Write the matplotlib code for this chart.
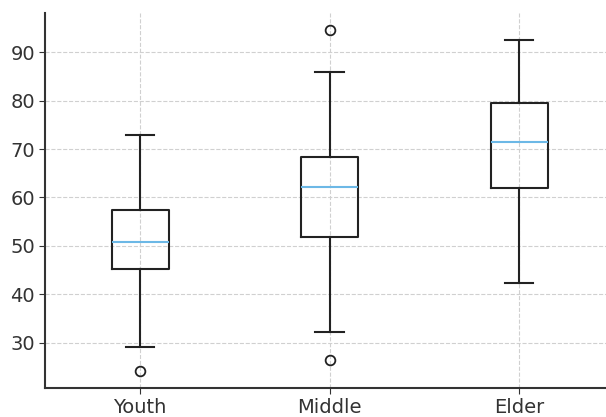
import matplotlib
matplotlib.use("Agg")
import matplotlib.pyplot as plt

# box statistics
groups = ["Youth", "Middle", "Elder"]
whislo = [29.2, 32.3, 42.4]
q1 = [45.3, 51.9, 62.0]
med = [50.9, 62.2, 71.5]
q3 = [57.4, 68.4, 79.6]
whishi = [73.0, 85.9, 92.6]
fliers = [[24.2], [94.7, 26.4], []]

stats = []
for i, name in enumerate(groups):
    stats.append({"label": name, "whislo": whislo[i], "q1": q1[i], "med": med[i],
                  "q3": q3[i], "whishi": whishi[i], "fliers": fliers[i]})

fig, ax = plt.subplots(figsize=(6.06, 4.17), dpi=100)
lw = 1.5
ax.bxp(stats, widths=0.3,
       boxprops=dict(color="#222222", linewidth=lw),
       whiskerprops=dict(color="#222222", linewidth=lw),
       capprops=dict(color="#222222", linewidth=lw),
       medianprops=dict(color="#6cb8e6", linewidth=lw),
       flierprops=dict(marker="o", markerfacecolor="none", markeredgecolor="#222222",
                       markersize=7, markeredgewidth=1.3))

ax.grid(True, linestyle="--", color="#d0d0d0", linewidth=0.8)
ax.set_axisbelow(True)
ax.spines["top"].set_visible(False)
ax.spines["right"].set_visible(False)
ax.spines["left"].set_linewidth(1.5)
ax.spines["bottom"].set_linewidth(1.5)
ax.spines["left"].set_color("#333333")
ax.spines["bottom"].set_color("#333333")
ax.tick_params(labelsize=14, colors="#333333", length=4)
ax.set_yticks([30, 40, 50, 60, 70, 80, 90])

# the right end of the axes runs slightly past the picture edge
fig.subplots_adjust(left=0.075, right=1.013, top=0.97, bottom=0.07)
fig.savefig("out.png", dpi=100)
